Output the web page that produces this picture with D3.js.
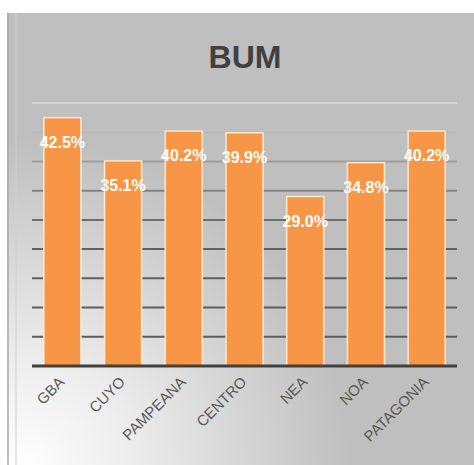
<!DOCTYPE html>
<html><head><meta charset="utf-8">
<script src="https://cdn.jsdelivr.net/npm/d3@7"></script>
<style>html,body{margin:0;padding:0;background:#fff;}svg{display:block;}</style>
</head><body>
<script>
const categories = ["GBA","CUYO","PAMPEANA","CENTRO","NEA","NOA","PATAGONIA"];
const values = [42.5, 35.1, 40.2, 39.9, 29.0, 34.8, 40.2];
const labels = ["42.5%","35.1%","40.2%","39.9%","29.0%","34.8%","40.2%"];
const yTicks = [0,5,10,15,20,25,30,35,40,45];
const title = "BUM";

const W = 474, H = 465;
const svg = d3.select("body").append("svg").attr("width", W).attr("height", H);
const defs = svg.append("defs");
const rg = defs.append("radialGradient").attr("id","bg")
  .attr("gradientUnits","userSpaceOnUse").attr("cx",20).attr("cy",470).attr("r",330);
rg.append("stop").attr("offset","0").attr("stop-color","#ffffff");
rg.append("stop").attr("offset","0.35").attr("stop-color","#ececec");
rg.append("stop").attr("offset","1").attr("stop-color","#bfbfbf");
const lg = defs.append("linearGradient").attr("id","grid")
  .attr("gradientUnits","userSpaceOnUse").attr("x1",0).attr("y1",100).attr("x2",0).attr("y2",370);
lg.append("stop").attr("offset","0").attr("stop-color","#d8d8d8");
lg.append("stop").attr("offset","0.3").attr("stop-color","#8c8c8c");
lg.append("stop").attr("offset","0.5").attr("stop-color","#626262");
lg.append("stop").attr("offset","1").attr("stop-color","#5a5a5a");

svg.append("rect").attr("x",7).attr("y",13).attr("width",W-7).attr("height",H-13).attr("fill","url(#bg)");
svg.append("line").attr("x1",8).attr("x2",8).attr("y1",13).attr("y2",H).attr("stroke","#a9a9a9").attr("stroke-width",1.5);
svg.append("line").attr("x1",16).attr("x2",16).attr("y1",13).attr("y2",H).attr("stroke","#cfcfcf").attr("stroke-width",1);

const x = d3.scaleBand().domain(categories).range([32,457]).paddingInner(0.39).paddingOuter(0.195);
const y = d3.scaleLinear().domain([0,45]).range([366,103]);

svg.append("text").attr("x",245).attr("y",68).attr("text-anchor","middle")
  .attr("font-family","Liberation Sans, Arial, sans-serif").attr("font-weight","bold")
  .attr("font-size",32).attr("fill","#404040").text(title);

const g = svg.append("g");
g.selectAll("line.grid").data(yTicks.filter(d=>d>0)).join("line").attr("class","grid")
  .attr("x1",32).attr("x2",457).attr("y1",d=>y(d)).attr("y2",d=>y(d))
  .attr("stroke", "url(#grid)").attr("stroke-width",2);

g.selectAll("rect.bar").data(values).join("rect").attr("class","bar")
  .attr("x",(d,i)=>x(categories[i])).attr("width",x.bandwidth())
  .attr("y",d=>y(d)).attr("height",d=>y(0)-y(d))
  .attr("fill","#f79646").attr("stroke","#fde7cc").attr("stroke-width",1.5);

g.append("line").attr("x1",32).attr("x2",457).attr("y1",y(0)).attr("y2",y(0))
  .attr("stroke","#404040").attr("stroke-width",3);

g.selectAll("text.val").data(values).join("text").attr("class","val")
  .attr("x",(d,i)=>x(categories[i])+x.bandwidth()/2).attr("y",d=>y(d)+30)
  .attr("text-anchor","middle").attr("font-family","Liberation Sans, Arial, sans-serif")
  .attr("font-weight","bold").attr("font-size",16).attr("fill","#ffffff")
  .text((d,i)=>labels[i]);

g.selectAll("text.cat").data(categories).join("text").attr("class","cat")
  .attr("transform",d=>`translate(${x(d)+x.bandwidth()/2+3},${y(0)+17}) rotate(-45)`)
  .attr("text-anchor","end").attr("font-family","Liberation Sans, Arial, sans-serif")
  .attr("font-size",15).attr("fill","#595959").text(d=>d);
</script>
</body></html>
